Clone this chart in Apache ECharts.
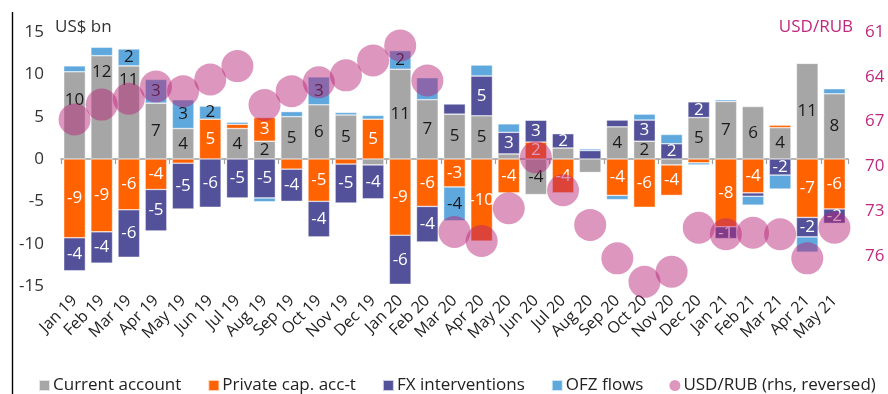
<!DOCTYPE html>
<html>
<head>
<meta charset="utf-8">
<script src="https://cdn.jsdelivr.net/npm/echarts@6/dist/echarts.min.js"></script>
<style>
  html, body { margin: 0; padding: 0; background: #ffffff; }
  #chart { width: 888px; height: 394px; }
</style>
</head>
<body>
<div id="chart"></div>
<script>
// Russia: balance of payments flows (US$ bn) and the rouble (USD/RUB, right axis, reversed)
const months = ['Jan 19', 'Feb 19', 'Mar 19', 'Apr 19', 'May 19', 'Jun 19', 'Jul 19', 'Aug 19',
  'Sep 19', 'Oct 19', 'Nov 19', 'Dec 19', 'Jan 20', 'Feb 20', 'Mar 20', 'Apr 20', 'May 20',
  'Jun 20', 'Jul 20', 'Aug 20', 'Sep 20', 'Oct 20', 'Nov 20', 'Dec 20', 'Jan 21', 'Feb 21',
  'Mar 21', 'Apr 21', 'May 21'];

const currentAccount = [10.3, 12.2, 11.0, 6.6, 3.6, 0, 3.6, 2.1, 5.0, 6.4, 5.2, -0.7, 10.6, 7.0,
  5.3, 5.1, 0.6, -4.2, 1.3, -1.6, 3.8, 2.1, -0.7, 4.9, 6.8, 6.2, 3.7, 11.3, 7.7];

const privateCapital = [-9.3, -8.6, -6.0, -3.6, -0.5, 4.7, 0.5, 2.8, -1.2, -5.0, -0.6, 4.7, -9.0,
  -5.6, -3.3, -9.7, -4.0, 2.0, -4.0, 0, -4.3, -5.7, -3.6, -0.45, -8.0, -4.0, 0.3, -6.9, -5.9];

const fxInterventions = [-3.9, -3.7, -5.6, -4.9, -5.4, -5.7, -4.6, -4.6, -3.8, -4.2, -4.6, -4.0,
  -5.8, -4.2, 1.2, 4.7, 2.55, 2.6, 1.7, 1.0, 0.8, 2.5, 1.8, 1.85, -1.4, -0.4, -1.9, -2.3, -1.7];

const ofzFlows = [0.7, 1.0, 2.0, 2.8, 3.4, 1.55, 0.25, -0.45, 0.6, 3.3, 0.3, 0.45, 2.2, 2.6,
  -4.0, 1.3, 1.0, 0, 0, 0.2, -0.5, 0.7, 1.1, -0.25, 0.2, -1.05, -1.65, -1.8, 0.6];

const usdRub = [66.86, 65.86, 65.47, 64.65, 64.96, 64.18, 63.28, 65.88, 64.96, 64.36, 63.9,
  62.9, 61.9, 64.24, 74.38, 74.99, 72.8, 69.39, 71.59, 73.91, 76.15, 77.72, 77.05, 74.1,
  74.54, 74.43, 74.54, 76.15, 74.1];

const flowTicks = [-15, -10, -5, 0, 5, 10, 15];
const rubTicks = [61, 64, 67, 70, 73, 76];

// value labels left off on the chart (series key -> months)
const unlabelled = { ca: ['Aug 20'], ofz: ['Feb 20', 'Mar 21', 'Apr 21'] };
// current-account labels lifted clear of the rouble markers (px)
const labelLift = { 'Jan 19': -15, 'Feb 19': -35, 'Mar 19': -32 };

const FONT = 'Open Sans';
const C_CA = '#a6a6a6', C_PRIV = '#ff6200', C_FX = '#525199', C_OFZ = '#5fa8dd';
const C_RUB = 'rgba(183, 35, 120, 0.6)', C_RUB_TEXT = '#c0287c';

function barSeries(name, key, values, color, labelColor, lift) {
  const hide = unlabelled[key] || [];
  const data = values.map((v, i) => {
    const dy = lift && lift[months[i]];
    return dy ? { value: v, label: { offset: [0, dy] } } : v;
  });
  return {
    name, type: 'bar', stack: 'flows', data,
    barWidth: '80%',
    itemStyle: { color, borderColor: 'rgba(255,255,255,0.7)', borderWidth: 0.6 },
    label: {
      show: true, position: 'inside', color: labelColor,
      fontFamily: FONT, fontSize: 17,
      formatter: p => (Math.abs(p.value) < 1.35 || hide.includes(p.name)) ? '' : String(Math.round(p.value))
    },
    z: 2
  };
}

const chart = echarts.init(document.getElementById('chart'), null, { renderer: 'canvas' });

chart.setOption({
  animation: false,
  backgroundColor: '#ffffff',
  textStyle: { fontFamily: FONT },
  grid: { left: 61, right: 40, top: 32, bottom: 108 },
  legend: {
    left: 33, top: 372,
    itemWidth: 11, itemHeight: 11, itemGap: 26,
    textStyle: { fontFamily: FONT, fontSize: 17, color: '#222', padding: [0, 0, 0, -2] },
    data: [
      { name: 'Current account', icon: 'rect' },
      { name: 'Private cap. acc-t', icon: 'rect' },
      { name: 'FX interventions', icon: 'rect' },
      { name: 'OFZ flows', icon: 'rect' },
      { name: 'USD/RUB (rhs, reversed)', icon: 'circle' }
    ]
  },
  xAxis: [
    {
      type: 'category', data: months, position: 'bottom',
      axisLine: { show: false, onZero: false }, axisTick: { show: false },
      axisLabel: { rotate: 45, margin: 12, fontFamily: FONT, fontSize: 16, color: '#222', interval: 0 }
    },
    {
      type: 'category', data: months, position: 'top',
      axisLine: { show: true, onZero: true, lineStyle: { color: '#a0a0a0', width: 1.5 } },
      axisTick: { show: true, inside: true, length: 5, lineStyle: { color: '#a0a0a0', width: 1.2 } },
      axisLabel: { show: false }
    }
  ],
  yAxis: [
    {
      type: 'value', min: flowTicks[0], max: flowTicks[flowTicks.length - 1], interval: 5,
      axisLine: { show: false }, axisTick: { show: false }, splitLine: { show: false },
      axisLabel: { margin: 17, fontFamily: FONT, fontSize: 17, color: '#333' }
    },
    {
      type: 'value', inverse: true, min: rubTicks[0], max: 78, interval: 3,
      axisLine: { show: false }, axisTick: { show: false }, splitLine: { show: false },
      axisLabel: {
        margin: 17, fontFamily: FONT, fontSize: 17, color: C_RUB_TEXT,
        formatter: v => rubTicks.includes(v) ? String(v) : ''
      }
    }
  ],
  graphic: [
    { type: 'line', shape: { x1: 12.5, y1: 12, x2: 12.5, y2: 394 }, style: { stroke: '#000', lineWidth: 1.4 } },
    { type: 'text', left: 55, top: 19, style: { text: 'US$ bn', fontFamily: FONT, fontSize: 17, fill: '#333' } },
    { type: 'text', right: 35, top: 19, style: { text: 'USD/RUB', fontFamily: FONT, fontSize: 17, fill: C_RUB_TEXT } }
  ],
  series: [
    barSeries('Current account', 'ca', currentAccount, C_CA, '#1a1a1a', labelLift),
    barSeries('Private cap. acc-t', 'priv', privateCapital, C_PRIV, '#ffffff'),
    barSeries('FX interventions', 'fx', fxInterventions, C_FX, '#ffffff'),
    barSeries('OFZ flows', 'ofz', ofzFlows, C_OFZ, '#1a1a1a'),
    {
      name: 'USD/RUB (rhs, reversed)', type: 'scatter', yAxisIndex: 1, data: usdRub,
      symbol: 'circle', symbolSize: 32, clip: false,
      itemStyle: { color: C_RUB }, z: 2
    }
  ]
});
</script>
</body>
</html>
